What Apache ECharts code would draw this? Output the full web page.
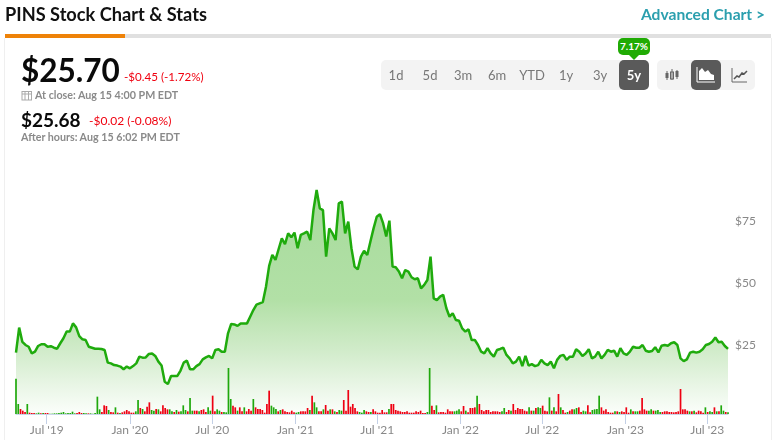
<!DOCTYPE html>
<html>
<head>
<meta charset="utf-8">
<title>PINS Stock Chart & Stats</title>
<script src="https://cdn.jsdelivr.net/npm/echarts@6/dist/echarts.min.js"></script>
<style>
  html,body{margin:0;padding:0;background:#fff;font-family:Lato,"Open Sans",sans-serif;overflow:hidden}
  #chart{position:absolute;left:0;top:0;width:777px;height:440px}
  .t{position:absolute;white-space:nowrap;line-height:1}
  .box{position:absolute}
  .red{color:#f0000f}
  .grey{color:#8a8a8a;font-weight:700;font-size:10.7px}
  .btn{position:absolute;top:60px;height:30px;line-height:30px;text-align:center;font-size:13px;color:#777;transform:translateX(-50%)}
</style>
</head>
<body>
<div id="chart"></div>

<div class="t" style="left:5px;top:5px;font-size:18.2px;font-weight:700;color:#111">PINS Stock Chart &amp; Stats</div>
<div class="t" style="right:12px;top:7px;font-size:15.6px;font-weight:700;color:#2b9fae">Advanced Chart &gt;</div>

<div class="box" style="left:5px;top:34px;width:766px;height:4px;background:#e0e0e0"></div>
<div class="box" style="left:5px;top:34px;width:120px;height:4px;background:#ee8208"></div>
<div class="box" style="left:4px;top:38px;width:1px;height:402px;background:#efefef"></div>
<div class="box" style="left:771px;top:38px;width:1px;height:402px;background:#efefef"></div>

<div class="t" style="left:21px;top:55px;font-size:31.500px;font-weight:700;color:#0a0a0a">$25.70</div>
<div class="t red" style="left:124px;top:71px;font-size:11.6px">-$0.45 (-1.72%)</div>
<svg class="box" style="left:21px;top:90px" width="12" height="11" viewBox="0 0 12 11"><rect x="1" y="1.5" width="9.5" height="8.5" fill="none" stroke="#aaa"/><path d="M1 4h9.5M4 1v9M7.500 1v9" stroke="#aaa" fill="none"/></svg>
<div class="t grey" style="left:35px;top:90px">At close: Aug 15 4:00 PM EDT</div>
<div class="t" style="left:21px;top:110px;font-size:19px;font-weight:700;color:#0a0a0a">$25.68</div>
<div class="t red" style="left:89px;top:115px;font-size:12px">-$0.02 (-0.08%)</div>
<div class="t grey" style="left:21px;top:132px">After hours: Aug 15 6:02 PM EDT</div>

<div class="box" style="left:381px;top:60px;width:268px;height:30px;background:#f3f3f3;border-radius:5px"></div>
<div class="box" style="left:619px;top:60px;width:30px;height:30px;background:#5a5a5a;border-radius:5px"></div>
<div class="btn" style="left:396px">1d</div>
<div class="btn" style="left:430px">5d</div>
<div class="btn" style="left:463px">3m</div>
<div class="btn" style="left:497px">6m</div>
<div class="btn" style="left:532px">YTD</div>
<div class="btn" style="left:566px">1y</div>
<div class="btn" style="left:600px">3y</div>
<div class="btn" style="left:634px;color:#fff;font-weight:700">5y</div>
<div class="box" style="left:618px;top:38px;width:32px;height:17px;background:#20ab04;border-radius:5px;color:#fff;font-size:10px;font-weight:700;line-height:17px;text-align:center">7.17%</div>
<div class="box" style="left:629px;top:55px;width:0;height:0;border-left:5px solid transparent;border-right:5px solid transparent;border-top:5px solid #20ab04"></div>

<div class="box" style="left:657px;top:60px;width:98px;height:30px;background:#f3f3f3;border-radius:5px"></div>
<div class="box" style="left:691px;top:60px;width:30px;height:30px;background:#5a5a5a;border-radius:5px"></div>
<svg class="box" style="left:664px;top:68px" width="16" height="14" viewBox="0 0 16 14"><path d="M3 3v9M8 1v11M13 2v9" stroke="#666"/><rect x="1.500" y="5" width="3" height="5" fill="#666"/><rect x="6.500" y="4" width="3" height="7" fill="none" stroke="#666"/><rect x="11.500" y="3" width="3" height="6" fill="#666"/></svg>
<svg class="box" style="left:696px;top:66px" width="20" height="17" viewBox="0 0 20 17"><path d="M1 1v15h18" stroke="#fff" fill="none"/><path d="M3 14V5l3-3 3 4 3-2 3 4 3 1v5z" fill="#fff"/></svg>
<svg class="box" style="left:731px;top:67px" width="17" height="16" viewBox="0 0 17 16"><path d="M1 1v14h15" stroke="#666" fill="none"/><path d="M3 12l3-3 2 1 3-4 2 1 3-3" stroke="#555" stroke-width="1.500" fill="none"/></svg>

<script>
const firstDay = Date.UTC(2019, 3, 24);
const dayMs = 86400000;
const priceStepDays = 7;
const volumeStepDays = 5;

// close, one per week
const prices = [
  21.9,32.0,26.3,25.0,24.3,21.6,22.3,24.6,25.3,25.3,24.3,24.5,23.9,23.5,25.7,27.7,30.4,30.4,33.7,32.1,
  28.6,27.3,27.0,24.3,23.9,23.5,23.5,23.4,23.0,17.9,17.6,16.9,16.7,16.3,15.2,16.3,15.6,16.5,17.6,20.3,
  19.9,20.0,21.4,21.6,20.6,18.3,16.7,10.2,9.3,12.5,12.5,12.5,14.7,17.9,18.7,15.2,15.2,16.5,17.3,19.2,
  20.0,20.6,19.6,23.0,23.3,22.3,22.3,29.7,33.5,33.3,32.7,33.7,33.7,33.7,36.4,39.1,41.3,41.8,42.3,48.5,
  56.9,61.3,59.3,63.7,68.0,65.6,70.0,68.4,70.3,64.0,69.4,70.0,70.7,67.3,79.4,87.5,80.1,79.4,60.6,72.0,
  70.0,67.3,82.1,82.8,70.0,74.7,64.0,56.6,55.5,60.6,63.0,61.3,66.7,72.0,76.7,77.7,74.1,68.7,75.1,56.6,
  56.3,54.6,51.9,55.2,54.6,52.3,51.5,51.9,47.8,49.2,51.2,60.6,43.8,43.1,44.5,45.2,39.8,36.4,37.8,35.1,
  34.8,31.7,30.4,31.3,27.0,27.0,25.0,22.3,21.6,23.7,21.6,20.3,23.0,23.4,23.9,21.0,19.6,17.6,18.3,20.3,
  16.5,20.6,16.7,17.3,16.5,16.9,19.0,17.6,16.9,18.3,15.6,19.0,20.6,21.0,19.0,20.3,20.3,23.3,22.3,20.6,
  21.6,23.3,19.6,20.3,22.3,19.6,21.0,23.0,22.3,22.7,20.3,23.7,21.6,21.0,22.3,24.3,23.9,23.9,25.0,22.7,
  22.3,22.6,24.1,22.0,24.7,25.0,24.7,25.7,26.1,25.0,19.6,18.5,19.2,21.9,22.3,21.9,22.3,23.3,25.0,25.4,
  26.3,28.0,26.1,26.3,24.6,23.4
];

// volume in millions, negative = down day (red)
const volumes = [
  106,30,-15,-10,-6,30,-4,-3,-3,2,4,-2,3,-3,-3,1,1,2,2,3,4,6,2,3,3,7,2,-3,-6,-3,3,2,-2,2,1,3,
  52,14,-6,-26,-24,12,-6,-5,20,-4,3,-5,-8,-12,-8,-4,-4,8,42,-18,15,-8,-22,-35,12,10,-15,14,-8,-26,-18,-14,14,8,
  -6,12,-7,8,26,12,-8,48,10,-10,-10,8,-12,-14,-6,20,10,-55,-8,14,10,-6,6,5,138,45,-25,-20,10,-20,-8,20,-8,-15,-10,45,-20,-15,
  -15,-12,-4,-30,-70,25,20,15,-8,12,-14,-8,-6,-5,-10,-5,4,6,-8,-8,-8,-18,12,-55,35,20,-8,-8,14,-27,-10,14,-14,8,-6,12,10,-42,
  -10,-72,-22,-30,-18,-8,6,4,12,-8,-6,6,-14,-8,-4,-4,-12,-5,-5,15,-30,-30,-12,-10,-8,-6,-6,-8,-4,-4,-4,-8,-6,-10,-3,-3,6,138,
  -25,-12,26,-5,-6,-6,-4,-14,-8,-8,8,10,14,-8,-24,10,-5,-18,-18,-20,55,-30,-12,-8,-12,-12,-6,-8,-8,-8,-6,8,18,-6,-12,10,-30,-12,-18,
  -15,-15,-10,-8,20,-10,10,-18,20,18,-25,-10,-8,50,-10,20,-8,-60,20,-12,-4,6,-10,-14,14,18,-20,-6,10,8,-26,-5,12,14,15,55,
  -20,-10,-14,-6,-4,-4,8,-8,6,-8,-6,-20,-4,14,-8,8,8,-10,-48,-14,-10,10,14,-10,10,12,6,-6,-8,-8,-6,-6,-5,-6,-8,-75,-14,-14,-10,8,
  -8,10,-5,-10,-8,-4,20,-6,8,6,-20,8,-8,26,10,-6,5
];

const tickDates = ['2019-07-01','2020-01-01','2020-07-01','2021-01-01','2021-07-01','2022-01-01','2022-07-01','2023-01-01','2023-07-01'];
const tickLabels = ["Jul '19","Jan '20","Jul '20","Jan '21","Jul '21","Jan '22","Jul '22","Jan '23","Jul '23"];
const priceTicks = [25, 50, 75];

const tickTimes = tickDates.map(d => new Date(d + 'T00:00:00Z').getTime());
const priceData = prices.map((v, i) => [firstDay + i * priceStepDays * dayMs, v]);
const volumeData = volumes.map((v, i) => ({
  value: [firstDay + i * volumeStepDays * dayMs, Math.abs(v)],
  itemStyle: { color: v < 0 ? '#ee0012' : '#1fa80c' }
}));
const lastDay = firstDay + (prices.length - 1) * priceStepDays * dayMs;

const myChart = echarts.init(document.getElementById('chart'));
const option = {
  animation: false,
  grid: { left: 16, right: 49, top: 150, bottom: 26 },
  // timestamps on a value axis, the time axis breaks on customValues
  xAxis: {
    type: 'value',
    min: firstDay,
    max: lastDay,
    splitLine: { show: false },
    axisLine: { onZero: false, lineStyle: { color: '#c9d6ea' } },
    axisTick: { show: true, length: 10, customValues: tickTimes, lineStyle: { color: '#c3d0e6' } },
    axisLabel: {
      customValues: tickTimes,
      margin: 10,
      color: '#888',
      fontSize: 12,
      fontFamily: 'Lato',
      formatter: value => tickLabels[tickTimes.indexOf(+value)] || ''
    }
  },
  yAxis: [
    {
      type: 'value',
      position: 'right',
      min: -2.82,
      max: 103.6,
      splitLine: { show: false },
      axisLine: { show: false },
      axisTick: { show: false },
      axisLabel: {
        customValues: priceTicks,
        margin: 7,
        color: '#888',
        fontSize: 12,
        fontFamily: 'Lato',
        formatter: '${value}'
      }
    },
    { type: 'value', min: 0, max: 792, show: false }
  ],
  series: [
    {
      name: 'Price',
      type: 'line',
      data: priceData,
      showSymbol: false,
      lineStyle: { color: '#1fab0d', width: 2.5 },
      itemStyle: { color: '#1fab0d' },
      areaStyle: {
        origin: 'start',
        opacity: 1,
        color: new echarts.graphic.LinearGradient(0, 0, 0, 1, [
          { offset: 0, color: '#a5da98' },
          { offset: 0.18, color: '#abdda0' },
          { offset: 0.49, color: '#b2e0a6' },
          { offset: 0.71, color: '#d0ebc9' },
          { offset: 0.88, color: '#eaf6e7' },
          { offset: 1, color: '#fbfefb' }
        ])
      },
      z: 2
    },
    {
      name: 'Volume',
      type: 'bar',
      yAxisIndex: 1,
      barWidth: 1.7,
      data: volumeData,
      z: 3
    }
  ]
};
myChart.setOption(option);
</script>
</body>
</html>
